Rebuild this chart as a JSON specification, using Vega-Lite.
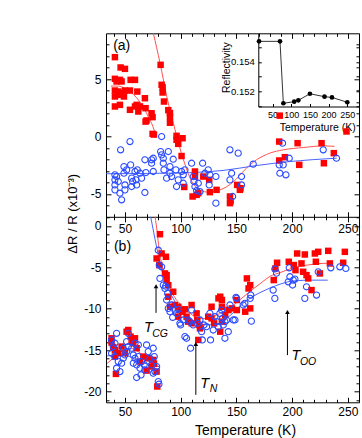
{
"$schema": "https://vega.github.io/schema/vega-lite/v6.json",
"width": 253, "height": 369,
"autosize": {"type": "none"},
"padding": {"left": 106, "top": 33.3, "right": 3, "bottom": 35.7},
"config": {
 "font": "Liberation Sans",
 "view": {"stroke": "#000", "strokeWidth": 1},
 "axis": {"grid": false, "labelFont": "Liberation Sans", "titleFont": "Liberation Sans", "labelColor": "#000", "titleColor": "#000", "tickColor": "#000", "domainColor": "#000", "tickWidth": 1, "domainWidth": 1, "labelFlush": false, "labelOverlap": false, "titleFontWeight": "normal", "labelFontSize": 12, "titleFontSize": 14}
},
"resolve": {"scale": {"x": "independent", "y": "independent"}, "axis": {"x": "independent", "y": "independent"}},
"datasets": {
 "ra": [{"T":41.0,"v":6.92},{"T":41.0,"v":5.03},{"T":42.5,"v":4.8},{"T":45.5,"v":4.94},{"T":47.0,"v":4.8},{"T":41.0,"v":4.01},{"T":44.0,"v":3.92},{"T":47.0,"v":3.78},{"T":50.0,"v":4.01},{"T":41.0,"v":3.49},{"T":45.5,"v":3.63},{"T":49.1,"v":3.49},{"T":46.1,"v":6.02},{"T":50.0,"v":5.9},{"T":41.0,"v":2.62},{"T":45.5,"v":2.76},{"T":55.1,"v":4.94},{"T":59.0,"v":4.94},{"T":54.5,"v":4.01},{"T":61.1,"v":3.92},{"T":54.5,"v":2.33},{"T":59.0,"v":2.62},{"T":60.5,"v":2.76},{"T":63.5,"v":2.62},{"T":62.0,"v":2.18},{"T":67.9,"v":3.34},{"T":68.5,"v":2.47},{"T":68.5,"v":1.3},{"T":69.4,"v":1.4},{"T":73.9,"v":2.03},{"T":74.8,"v":1.69},{"T":74.8,"v":0.23},{"T":76.0,"v":0.17},{"T":82.0,"v":6.25},{"T":82.9,"v":4.51},{"T":83.8,"v":4.3},{"T":83.8,"v":3.84},{"T":85.0,"v":3.05},{"T":88.9,"v":2.3},{"T":90.4,"v":2.05},{"T":90.4,"v":1.7},{"T":90.4,"v":1.2},{"T":96.3,"v":0.06},{"T":96.3,"v":-0.29},{"T":97.8,"v":-0.64},{"T":101.7,"v":-0.15},{"T":100.8,"v":-1.7},{"T":103.2,"v":-4.4},{"T":112.8,"v":-3.05},{"T":112.8,"v":-3.49},{"T":110.7,"v":-5.23},{"T":114.3,"v":-5.09},{"T":115.8,"v":-4.94},{"T":120.3,"v":-3.49},{"T":125.6,"v":-3.78},{"T":126.2,"v":-4.85},{"T":132.2,"v":-4.65},{"T":144.2,"v":-5.81},{"T":144.8,"v":-5.64},{"T":144.2,"v":-5.23},{"T":150.7,"v":-4.22},{"T":153.1,"v":-4.65},{"T":153.7,"v":-4.51},{"T":188.4,"v":-0.44},{"T":188.9,"v":1.82},{"T":188.4,"v":-2.09},{"T":193.5,"v":-1.8},{"T":204.9,"v":-0.58},{"T":206.4,"v":-2.47},{"T":226.4,"v":-0.58},{"T":228.5,"v":-2.33},{"T":237.4,"v":-1.45},{"T":248.8,"v":0.44}],
 "ba": [{"T":41.0,"v":-3.34},{"T":41.0,"v":-3.78},{"T":41.0,"v":-4.22},{"T":41.0,"v":-4.65},{"T":42.5,"v":-3.49},{"T":44.0,"v":-3.92},{"T":45.5,"v":-4.94},{"T":46.1,"v":-1.16},{"T":47.0,"v":-5.52},{"T":49.1,"v":-2.62},{"T":49.1,"v":-3.2},{"T":50.0,"v":-4.22},{"T":50.0,"v":-4.65},{"T":51.5,"v":-2.91},{"T":54.5,"v":-0.44},{"T":55.1,"v":-2.47},{"T":56.0,"v":-3.63},{"T":56.0,"v":-4.36},{"T":56.9,"v":-3.92},{"T":59.0,"v":-3.05},{"T":59.9,"v":-3.78},{"T":60.5,"v":-4.22},{"T":61.1,"v":-2.91},{"T":63.5,"v":-3.2},{"T":64.9,"v":-3.63},{"T":67.9,"v":-2.03},{"T":67.9,"v":-4.88},{"T":68.8,"v":-3.14},{"T":73.9,"v":-2.03},{"T":73.9,"v":-2.33},{"T":75.4,"v":-3.05},{"T":75.4,"v":-1.89},{"T":82.9,"v":0.0},{"T":82.0,"v":-1.31},{"T":82.9,"v":-1.6},{"T":84.4,"v":-1.89},{"T":84.4,"v":-2.33},{"T":85.0,"v":-2.91},{"T":87.4,"v":-3.63},{"T":88.9,"v":-1.31},{"T":90.4,"v":-2.62},{"T":90.4,"v":-3.2},{"T":91.9,"v":-3.49},{"T":93.3,"v":-1.98},{"T":95.7,"v":-2.91},{"T":96.3,"v":-4.36},{"T":97.8,"v":-3.78},{"T":100.8,"v":-3.05},{"T":102.3,"v":-3.34},{"T":102.3,"v":-4.07},{"T":103.8,"v":-2.91},{"T":109.8,"v":-2.33},{"T":111.3,"v":-3.49},{"T":111.9,"v":-3.92},{"T":112.8,"v":-4.36},{"T":114.3,"v":-4.71},{"T":115.8,"v":-4.07},{"T":117.3,"v":-4.8},{"T":119.7,"v":-2.33},{"T":121.7,"v":-3.2},{"T":124.7,"v":-2.91},{"T":125.6,"v":-4.22},{"T":126.2,"v":-3.34},{"T":131.6,"v":-3.49},{"T":131.6,"v":-5.81},{"T":144.2,"v":-1.16},{"T":144.2,"v":-3.78},{"T":145.7,"v":-3.2},{"T":146.6,"v":-5.23},{"T":151.6,"v":-1.45},{"T":154.6,"v":-3.49},{"T":154.6,"v":-4.22},{"T":165.1,"v":-2.41},{"T":188.4,"v":-2.47},{"T":189.0,"v":-3.2},{"T":191.4,"v":-0.58},{"T":192.0,"v":-2.47},{"T":194.4,"v":-3.34},{"T":197.4,"v":-1.89},{"T":227.9,"v":-1.16},{"T":239.8,"v":-1.89}],
 "rla": [{"s":"a1","T":37.5,"v":4.4},{"s":"a1","T":44,"v":4.4},{"s":"a1","T":50,"v":4.2},{"s":"a1","T":56,"v":3.8},{"s":"a1","T":62,"v":3.2},{"s":"a1","T":67,"v":2.5},{"s":"a1","T":71,"v":1.7},{"s":"a1","T":75,"v":0.9},{"s":"a1","T":78,"v":0.0},{"s":"a2","T":75.5,"v":9},{"s":"a2","T":81.5,"v":6.4},{"s":"a2","T":87.5,"v":3.5},{"s":"a2","T":94.9,"v":0.6},{"s":"a2","T":102.4,"v":-2.0},{"s":"a2","T":111,"v":-4.1},{"s":"a2","T":118,"v":-4.7},{"s":"a2","T":125,"v":-4.85},{"s":"a2","T":132,"v":-4.75},{"s":"a2","T":144,"v":-4.2},{"s":"a2","T":150,"v":-3.7},{"s":"a2","T":156,"v":-3.05},{"s":"a2","T":162,"v":-2.5},{"s":"a2","T":168,"v":-2.03},{"s":"a2","T":174,"v":-1.7},{"s":"a2","T":180,"v":-1.45},{"s":"a2","T":192,"v":-1.16},{"s":"a2","T":210,"v":-0.96},{"s":"a2","T":228,"v":-0.82},{"s":"a2","T":238,"v":-0.86}],
 "bla": [{"T":33,"v":-3.25},{"T":70,"v":-3.22},{"T":108,"v":-3.15},{"T":138,"v":-2.96},{"T":168,"v":-2.53},{"T":198,"v":-2.18},{"T":240,"v":-1.89}],
 "rb": [{"T":38.0,"v":-13.57},{"T":38.0,"v":-14.09},{"T":39.5,"v":-14.65},{"T":41.0,"v":-15.78},{"T":41.9,"v":-17.87},{"T":44.0,"v":-15.38},{"T":50.0,"v":-15.38},{"T":51.5,"v":-12.77},{"T":53.0,"v":-12.57},{"T":55.1,"v":-13.37},{"T":56.0,"v":-13.97},{"T":59.0,"v":-13.57},{"T":60.5,"v":-14.77},{"T":63.5,"v":-16.38},{"T":66.4,"v":-15.78},{"T":69.4,"v":-17.47},{"T":70.9,"v":-15.98},{"T":75.4,"v":-16.18},{"T":76.0,"v":-16.66},{"T":78.4,"v":-17.59},{"T":79.0,"v":-19.39},{"T":41.0,"v":-14.98},{"T":47.0,"v":-14.57},{"T":57.5,"v":-14.17},{"T":73.9,"v":-16.98},{"T":81.4,"v":-1.0},{"T":78.4,"v":-3.93},{"T":82.9,"v":-3.33},{"T":80.8,"v":-4.73},{"T":86.8,"v":-3.73},{"T":85.9,"v":-5.74},{"T":87.4,"v":-5.94},{"T":87.4,"v":-6.54},{"T":88.9,"v":-7.15},{"T":93.3,"v":-7.95},{"T":88.9,"v":-8.55},{"T":90.4,"v":-9.76},{"T":94.8,"v":-9.55},{"T":97.8,"v":-9.76},{"T":99.3,"v":-10.16},{"T":97.8,"v":-10.96},{"T":101.7,"v":-10.36},{"T":103.8,"v":-10.07},{"T":105.3,"v":-10.96},{"T":109.8,"v":-9.55},{"T":106.8,"v":-11.56},{"T":109.8,"v":-11.76},{"T":114.3,"v":-10.56},{"T":114.9,"v":-11.37},{"T":116.7,"v":-11.96},{"T":117.3,"v":-12.37},{"T":115.8,"v":-13.77},{"T":124.7,"v":-10.96},{"T":127.7,"v":-9.76},{"T":127.7,"v":-11.16},{"T":130.0,"v":-11.77},{"T":133.9,"v":-8.75},{"T":135.5,"v":-8.55},{"T":137.0,"v":-8.95},{"T":137.0,"v":-9.76},{"T":137.0,"v":-11.56},{"T":135.5,"v":-12.77},{"T":139.9,"v":-10.76},{"T":142.9,"v":-10.16},{"T":145.9,"v":-9.96},{"T":150.4,"v":-8.95},{"T":150.4,"v":-10.16},{"T":157.9,"v":-10.36},{"T":159.4,"v":-6.34},{"T":160.9,"v":-7.55},{"T":162.4,"v":-7.15},{"T":162.4,"v":-9.96},{"T":183.5,"v":-6.54},{"T":185.0,"v":-5.14},{"T":186.5,"v":-4.45},{"T":197.0,"v":-4.33},{"T":201.5,"v":-4.73},{"T":203.0,"v":-5.34},{"T":204.5,"v":-3.33},{"T":208.4,"v":-4.53},{"T":209.9,"v":-5.54},{"T":211.4,"v":-3.45},{"T":212.9,"v":-5.94},{"T":214.4,"v":-6.34},{"T":217.4,"v":-7.75},{"T":220.4,"v":-3.33},{"T":221.3,"v":-4.33},{"T":223.4,"v":-3.13},{"T":224.9,"v":-5.74},{"T":232.4,"v":-3.01},{"T":233.9,"v":-4.53},{"T":245.8,"v":-4.45},{"T":247.3,"v":-3.13}],
 "bb": [{"T":38.0,"v":-13.77},{"T":39.5,"v":-14.57},{"T":41.0,"v":-14.17},{"T":42.5,"v":-12.97},{"T":38.0,"v":-15.38},{"T":41.0,"v":-15.78},{"T":44.0,"v":-16.38},{"T":42.5,"v":-17.18},{"T":45.5,"v":-17.59},{"T":47.0,"v":-16.58},{"T":48.5,"v":-14.77},{"T":48.5,"v":-15.98},{"T":50.0,"v":-15.58},{"T":51.5,"v":-15.18},{"T":51.5,"v":-13.97},{"T":53.0,"v":-14.57},{"T":53.0,"v":-12.97},{"T":56.0,"v":-14.77},{"T":57.5,"v":-15.58},{"T":57.5,"v":-16.58},{"T":59.0,"v":-14.17},{"T":59.0,"v":-15.98},{"T":60.5,"v":-16.78},{"T":62.0,"v":-14.37},{"T":62.0,"v":-15.78},{"T":63.5,"v":-17.18},{"T":64.9,"v":-16.38},{"T":67.3,"v":-16.78},{"T":60.5,"v":-18.31},{"T":64.4,"v":-17.99},{"T":69.4,"v":-14.37},{"T":70.9,"v":-15.18},{"T":72.4,"v":-15.98},{"T":73.9,"v":-16.78},{"T":75.4,"v":-14.77},{"T":76.3,"v":-15.78},{"T":76.9,"v":-17.59},{"T":78.4,"v":-16.98},{"T":79.9,"v":-18.79},{"T":80.5,"v":-19.11},{"T":75.4,"v":-17.79},{"T":67.9,"v":-17.39},{"T":79.9,"v":-2.93},{"T":80.8,"v":-4.73},{"T":81.4,"v":-6.34},{"T":82.9,"v":-4.94},{"T":84.4,"v":-7.15},{"T":85.9,"v":-7.55},{"T":86.5,"v":-7.27},{"T":87.4,"v":-8.95},{"T":88.3,"v":-8.15},{"T":88.9,"v":-9.96},{"T":90.4,"v":-10.36},{"T":91.9,"v":-9.55},{"T":92.8,"v":-11.04},{"T":94.8,"v":-10.16},{"T":96.3,"v":-10.56},{"T":97.8,"v":-10.07},{"T":99.3,"v":-11.76},{"T":99.9,"v":-11.96},{"T":102.3,"v":-11.36},{"T":103.8,"v":-13.37},{"T":105.3,"v":-13.57},{"T":106.8,"v":-11.36},{"T":109.8,"v":-10.16},{"T":108.3,"v":-11.56},{"T":108.9,"v":-14.77},{"T":111.3,"v":-11.96},{"T":114.9,"v":-11.76},{"T":117.3,"v":-11.36},{"T":118.8,"v":-12.77},{"T":119.4,"v":-13.77},{"T":120.9,"v":-11.96},{"T":123.2,"v":-12.17},{"T":126.2,"v":-10.56},{"T":126.8,"v":-13.77},{"T":129.2,"v":-12.57},{"T":130.7,"v":-10.96},{"T":132.2,"v":-11.56},{"T":133.7,"v":-12.17},{"T":135.2,"v":-10.56},{"T":136.7,"v":-10.16},{"T":137.6,"v":-11.16},{"T":138.2,"v":-11.96},{"T":139.7,"v":-13.57},{"T":139.7,"v":-11.56},{"T":141.2,"v":-11.36},{"T":142.7,"v":-12.77},{"T":144.2,"v":-9.55},{"T":147.2,"v":-11.36},{"T":148.7,"v":-11.36},{"T":149.6,"v":-8.63},{"T":150.1,"v":-8.75},{"T":156.1,"v":-9.55},{"T":157.6,"v":-9.35},{"T":162.4,"v":-8.75},{"T":162.9,"v":-8.35},{"T":163.4,"v":-11.5},{"T":183.0,"v":-7.75},{"T":184.5,"v":-8.75},{"T":184.5,"v":-5.2},{"T":186.0,"v":-5.7},{"T":196.5,"v":-6.75},{"T":197.4,"v":-5.06},{"T":198.0,"v":-6.14},{"T":200.4,"v":-7.14},{"T":201.0,"v":-6.55},{"T":202.5,"v":-6.42},{"T":211.4,"v":-8.75},{"T":212.9,"v":-7.35},{"T":221.9,"v":-8.35},{"T":223.4,"v":-5.54},{"T":234.7,"v":-5.06},{"T":242.8,"v":-4.94},{"T":248.2,"v":-5.14}],
 "rlb": [{"s":"b1","T":34,"v":-16.6},{"s":"b1","T":40,"v":-15.9},{"s":"b1","T":45,"v":-15.3},{"s":"b1","T":50,"v":-14.95},{"s":"b1","T":55,"v":-14.8},{"s":"b1","T":60,"v":-15.0},{"s":"b1","T":65,"v":-15.5},{"s":"b1","T":70,"v":-16.1},{"s":"b1","T":74,"v":-16.6},{"s":"b1","T":81,"v":-17.0},{"s":"b2","T":77,"v":1.1},{"s":"b2","T":79,"v":-0.8},{"s":"b2","T":80.5,"v":-2.7},{"s":"b2","T":82.5,"v":-4.3},{"s":"b2","T":84.4,"v":-5.5},{"s":"b2","T":88,"v":-7.0},{"s":"b2","T":91.9,"v":-8.0},{"s":"b2","T":96,"v":-8.9},{"s":"b2","T":100.9,"v":-9.6},{"s":"b2","T":105,"v":-10.2},{"s":"b2","T":109.8,"v":-10.7},{"s":"b2","T":116,"v":-11.1},{"s":"b2","T":122,"v":-11.2},{"s":"b2","T":130,"v":-10.9},{"s":"b2","T":140,"v":-10.2},{"s":"b2","T":147,"v":-9.6},{"s":"b2","T":156,"v":-8.6},{"s":"b2","T":165,"v":-7.6},{"s":"b2","T":172,"v":-6.9},{"s":"b2","T":180,"v":-6.1},{"s":"b2","T":190,"v":-5.6},{"s":"b2","T":198,"v":-5.2},{"s":"b2","T":206,"v":-4.9},{"s":"b2","T":215,"v":-4.7},{"s":"b2","T":224,"v":-4.55},{"s":"b2","T":232,"v":-4.5}],
 "blb": [{"s":"b1","T":34,"v":-15.7},{"s":"b1","T":42,"v":-15.6},{"s":"b1","T":50,"v":-15.6},{"s":"b1","T":56,"v":-15.9},{"s":"b1","T":62,"v":-16.3},{"s":"b1","T":68,"v":-16.6},{"s":"b1","T":74,"v":-16.8},{"s":"b1","T":81,"v":-17.0},{"s":"b2","T":73.1,"v":1.1},{"s":"b2","T":77,"v":-1.6},{"s":"b2","T":79.9,"v":-3.5},{"s":"b2","T":82.8,"v":-5.2},{"s":"b2","T":85.9,"v":-6.4},{"s":"b2","T":88.5,"v":-7.4},{"s":"b2","T":91.9,"v":-8.4},{"s":"b2","T":96,"v":-9.4},{"s":"b2","T":100.9,"v":-10.4},{"s":"b2","T":106,"v":-11.0},{"s":"b2","T":112.8,"v":-11.6},{"s":"b2","T":118,"v":-11.85},{"s":"b2","T":124.7,"v":-11.95},{"s":"b2","T":132,"v":-11.9},{"s":"b2","T":140,"v":-11.3},{"s":"b2","T":147,"v":-10.5},{"s":"b2","T":156,"v":-9.35},{"s":"b2","T":165,"v":-8.5},{"s":"b2","T":172,"v":-8.0},{"s":"b2","T":180,"v":-7.5},{"s":"b2","T":190,"v":-7.0},{"s":"b2","T":198,"v":-6.7},{"s":"b2","T":206,"v":-6.6},{"s":"b2","T":215,"v":-6.55},{"s":"b2","T":232,"v":-6.55}],
 "arr": [{"T":77.9,"y1":-10.5,"y2":-7.28},{"T":113.6,"y1":-20.4,"y2":-14.25},{"T":195.8,"y1":-15.6,"y2":-10.4}],
 "tl": [{"T":71.0,"v":-12.37,"t":"T"},{"T":121.5,"v":-19.09,"t":"T"},{"T":203.4,"v":-15.71,"t":"T"}],
 "sl": [{"T":81.5,"v":-13.1,"t":"CG"},{"T":129.6,"v":-19.75,"t":"N"},{"T":214.3,"v":-16.38,"t":"OO"}],
 "pa": [{"T":47.1,"v":7.91,"t":"(a)"}],
 "pb": [{"T":47.8,"v":-2.51,"t":"(b)"}],
 "ins": [{"T":14,"R":0.15541},{"T":70,"R":0.15541},{"T":79,"R":0.15118},{"T":108,"R":0.15129},{"T":119,"R":0.15138},{"T":150,"R":0.15183},{"T":189,"R":0.15163},{"T":209,"R":0.15158},{"T":250,"R":0.15125}]
},
"layer": [
 {"data": {"name": "rla"},
  "mark": {"type": "line", "color": "#ff5050", "strokeWidth": 1, "interpolate": "monotone"},
  "encoding": {
   "x": {"field": "T", "type": "quantitative", "scale": {"domain": [33, 260], "nice": false, "zero": false},
     "axis": {"orient": "bottom", "offset": -369, "values": [40,60,70,80,90,110,120,130,140,160,170,180,190,210,220,230,240,260], "tickSize": 3, "labels": false, "domain": false, "title": null}},
   "y": {"field": "v", "type": "quantitative", "scale": {"domain": [-7, 9], "range": [183.5, 0], "nice": false, "zero": false},
     "axis": {"orient": "left", "offset": -253, "values": [-5, 0, 5], "tickSize": 5, "labels": false, "domain": false, "title": null}},
   "detail": {"field": "s"}}},
 {"data": {"name": "bla"},
  "mark": {"type": "line", "color": "#4a64ff", "strokeWidth": 1, "interpolate": "monotone"},
  "encoding": {
   "x": {"field": "T", "type": "quantitative", "scale": {"domain": [33, 260], "nice": false, "zero": false},
     "axis": {"orient": "top", "offset": -183.5, "values": [50,100,150,200,250], "tickSize": 5, "labels": false, "domain": true, "title": null}},
   "y": {"field": "v", "type": "quantitative", "scale": {"domain": [-7, 9], "range": [183.5, 0], "nice": false, "zero": false},
     "axis": {"orient": "right", "offset": -253, "values": [-6,-4,-3,-2,-1,1,2,3,4,6,7,8], "tickSize": 3, "labels": false, "domain": false, "title": null}}}},
 {"data": {"name": "ra"},
  "mark": {"type": "square", "filled": true, "color": "#ff0000", "size": 42, "opacity": 1},
  "encoding": {
   "x": {"field": "T", "type": "quantitative", "scale": {"domain": [33, 260], "nice": false, "zero": false},
     "axis": {"orient": "bottom", "values": [50,100,150,200,250], "ticks": false, "domain": false, "labelPadding": 9, "labelBaseline": "middle", "title": "Temperature (K)", "titleX": 139, "titleY": 28, "titleBaseline": "middle", "titleAlign": "center"}},
   "y": {"field": "v", "type": "quantitative", "scale": {"domain": [-7, 9], "range": [183.5, 0], "nice": false, "zero": false},
     "axis": {"orient": "left", "values": [-5, 0, 5], "ticks": false, "domain": false, "labelPadding": 5, "labelExpr": "replace(datum.label, '\u2212', '-')", "title": "ΔR / R (x10⁻³)", "titleFontSize": 13, "titleAngle": -90, "titleX": -33.5, "titleY": 180, "titleAlign": "center", "titleBaseline": "middle"}}}},
 {"data": {"name": "ba"},
  "mark": {"type": "point", "shape": "circle", "filled": false, "stroke": "#2a4bff", "strokeWidth": 1.1, "size": 38, "opacity": 1},
  "encoding": {
   "x": {"field": "T", "type": "quantitative", "scale": {"domain": [33, 260], "nice": false, "zero": false},
     "axis": {"orient": "bottom", "offset": -369, "values": [50,100,150,200,250], "tickSize": 5, "labels": false, "domain": false, "title": null}},
   "y": {"field": "v", "type": "quantitative", "scale": {"domain": [-7, 9], "range": [183.5, 0], "nice": false, "zero": false},
     "axis": {"orient": "right", "offset": -253, "values": [-5, 0, 5], "tickSize": 5, "labels": false, "domain": false, "title": null}}}},
 {"data": {"name": "pa"},
  "mark": {"type": "text", "fontSize": 14, "color": "#000", "align": "center", "baseline": "middle"},
  "encoding": {
   "x": {"field": "T", "type": "quantitative", "scale": {"domain": [33, 260], "nice": false, "zero": false},
     "axis": {"orient": "top", "offset": -183.5, "values": [40,60,70,80,90,110,120,130,140,160,170,180,190,210,220,230,240], "tickSize": 3, "labels": false, "domain": false, "title": null}},
   "y": {"field": "v", "type": "quantitative", "scale": {"domain": [-7, 9], "range": [183.5, 0], "nice": false, "zero": false},
     "axis": {"orient": "left", "offset": -253, "values": [-6,-4,-3,-2,-1,1,2,3,4,6,7,8], "tickSize": 3, "labels": false, "domain": false, "title": null}},
   "text": {"field": "t"}}},
 {"data": {"name": "rlb"},
  "mark": {"type": "line", "color": "#ff5050", "strokeWidth": 1, "interpolate": "monotone"},
  "encoding": {
   "x": {"field": "T", "type": "quantitative", "scale": {"domain": [33, 260], "nice": false, "zero": false},
     "axis": {"orient": "top", "offset": -369, "values": [50,100,150,200,250], "tickSize": 5, "labels": false, "domain": false, "title": null}},
   "y": {"field": "v", "type": "quantitative", "scale": {"domain": [-21.3, 1.1], "range": [369, 183.5], "nice": false, "zero": false},
     "axis": {"orient": "right", "offset": -253, "values": [-21,-19,-18,-17,-16,-14,-13,-12,-11,-9,-8,-7,-6,-4,-3,-2,-1,1], "tickSize": 3, "labels": false, "domain": false, "title": null}},
   "detail": {"field": "s"}}},
 {"data": {"name": "blb"},
  "mark": {"type": "line", "color": "#4a64ff", "strokeWidth": 1, "interpolate": "monotone"},
  "encoding": {
   "x": {"field": "T", "type": "quantitative", "scale": {"domain": [33, 260], "nice": false, "zero": false},
     "axis": {"orient": "top", "offset": -369, "values": [40,60,70,80,90,110,120,130,140,160,170,180,190,210,220,230,240], "tickSize": 3, "labels": false, "domain": false, "title": null}},
   "y": {"field": "v", "type": "quantitative", "scale": {"domain": [-21.3, 1.1], "range": [369, 183.5], "nice": false, "zero": false},
     "axis": {"orient": "left", "offset": -253, "values": [-20,-15,-10,-5,0], "tickSize": 5, "labels": false, "domain": false, "title": null}},
   "detail": {"field": "s"}}},
 {"data": {"name": "rb"},
  "mark": {"type": "square", "filled": true, "color": "#ff0000", "size": 42, "opacity": 1},
  "encoding": {
   "x": {"field": "T", "type": "quantitative", "scale": {"domain": [33, 260], "nice": false, "zero": false},
     "axis": {"orient": "bottom", "offset": -185.5, "values": [50,100,150,200,250], "tickSize": 5, "labels": true, "labelPadding": 6.2, "labelBaseline": "middle", "domain": false, "title": null}},
   "y": {"field": "v", "type": "quantitative", "scale": {"domain": [-21.3, 1.1], "range": [369, 183.5], "nice": false, "zero": false},
     "axis": {"orient": "left", "values": [-20,-15,-10,-5,0], "ticks": false, "domain": false, "labelPadding": 5, "labelExpr": "replace(datum.label, '\u2212', '-')", "title": null}}}},
 {"data": {"name": "bb"},
  "mark": {"type": "point", "shape": "circle", "filled": false, "stroke": "#2a4bff", "strokeWidth": 1.1, "size": 38, "opacity": 1},
  "encoding": {
   "x": {"field": "T", "type": "quantitative", "scale": {"domain": [33, 260], "nice": false, "zero": false},
     "axis": {"orient": "bottom", "offset": -185.5, "values": [40,60,70,80,90,110,120,130,140,160,170,180,190,210,220,230,240], "tickSize": 3, "labels": false, "domain": false, "title": null}},
   "y": {"field": "v", "type": "quantitative", "scale": {"domain": [-21.3, 1.1], "range": [369, 183.5], "nice": false, "zero": false},
     "axis": {"orient": "right", "offset": -253, "values": [-20,-15,-10,-5,0], "tickSize": 5, "labels": false, "domain": false, "title": null}}}},
 {"data": {"name": "arr"},
  "mark": {"type": "rule", "color": "#000", "strokeWidth": 1},
  "encoding": {
   "x": {"field": "T", "type": "quantitative", "scale": {"domain": [33, 260], "nice": false, "zero": false}, "axis": null},
   "y": {"field": "y1", "type": "quantitative", "scale": {"domain": [-21.3, 1.1], "range": [369, 183.5], "nice": false, "zero": false},
     "axis": {"orient": "left", "offset": -253, "values": [-21,-19,-18,-17,-16,-14,-13,-12,-11,-9,-8,-7,-6,-4,-3,-2,-1,1], "tickSize": 3, "labels": false, "domain": false, "title": null}},
   "y2": {"field": "y2"}}},
 {"data": {"name": "arr"},
  "mark": {"type": "point", "shape": "triangle-up", "filled": true, "color": "#000", "size": 22, "opacity": 1},
  "encoding": {
   "x": {"field": "T", "type": "quantitative", "scale": {"domain": [33, 260], "nice": false, "zero": false}, "axis": null},
   "y": {"field": "y2", "type": "quantitative", "scale": {"domain": [-21.3, 1.1], "range": [369, 183.5], "nice": false, "zero": false}, "axis": null}}},
 {"data": {"name": "tl"},
  "mark": {"type": "text", "fontSize": 14.5, "fontStyle": "italic", "color": "#000", "align": "center", "baseline": "middle"},
  "encoding": {
   "x": {"field": "T", "type": "quantitative", "scale": {"domain": [33, 260], "nice": false, "zero": false}, "axis": null},
   "y": {"field": "v", "type": "quantitative", "scale": {"domain": [-21.3, 1.1], "range": [369, 183.5], "nice": false, "zero": false}, "axis": null},
   "text": {"field": "t"}}},
 {"data": {"name": "sl"},
  "mark": {"type": "text", "fontSize": 10.5, "fontStyle": "italic", "color": "#000", "align": "center", "baseline": "middle"},
  "encoding": {
   "x": {"field": "T", "type": "quantitative", "scale": {"domain": [33, 260], "nice": false, "zero": false}, "axis": null},
   "y": {"field": "v", "type": "quantitative", "scale": {"domain": [-21.3, 1.1], "range": [369, 183.5], "nice": false, "zero": false}, "axis": null},
   "text": {"field": "t"}}},
 {"data": {"name": "pb"},
  "mark": {"type": "text", "fontSize": 14, "color": "#000", "align": "center", "baseline": "middle"},
  "encoding": {
   "x": {"field": "T", "type": "quantitative", "scale": {"domain": [33, 260], "nice": false, "zero": false}, "axis": null},
   "y": {"field": "v", "type": "quantitative", "scale": {"domain": [-21.3, 1.1], "range": [369, 183.5], "nice": false, "zero": false}, "axis": null},
   "text": {"field": "t"}}},
 {"data": {"name": "ins"},
  "mark": {"type": "line", "color": "#000", "strokeWidth": 0.8},
  "encoding": {
   "x": {"field": "T", "type": "quantitative", "scale": {"domain": [12, 281.3], "range": [152.3, 253], "nice": false, "zero": false},
     "axis": {"orient": "bottom", "offset": -295.8, "values": [50,100,150,200,250], "ticks": false, "domain": true, "labelPadding": 8, "labelBaseline": "middle", "labelFontSize": 9, "title": "Temperature (K)", "titleFontSize": 10.5, "titleX": 211.2, "titleY": 20.5, "titleBaseline": "middle", "titleAlign": "center"}},
   "y": {"field": "R", "type": "quantitative", "scale": {"domain": [0.15096, 0.15596], "range": [73.2, 0], "nice": false, "zero": false},
     "axis": {"orient": "left", "offset": -152.3, "values": [0.152, 0.154], "format": ".3f", "ticks": false, "domain": true, "labelPadding": 4, "labelFontSize": 9.5, "title": "Reflectivity", "titleFontSize": 10.5, "titleAngle": -90, "titleX": -31.6, "titleY": 33.8, "titleAlign": "center", "titleBaseline": "middle"}}}},
 {"data": {"name": "ins"},
  "mark": {"type": "point", "shape": "circle", "filled": true, "color": "#000", "size": 22, "opacity": 1},
  "encoding": {
   "x": {"field": "T", "type": "quantitative", "scale": {"domain": [12, 281.3], "range": [152.3, 253], "nice": false, "zero": false},
     "axis": {"orient": "top", "offset": -73.2, "values": [50,100,150,200,250], "tickSize": 3, "labels": false, "domain": false, "title": null}},
   "y": {"field": "R", "type": "quantitative", "scale": {"domain": [0.15096, 0.15596], "range": [73.2, 0], "nice": false, "zero": false},
     "axis": {"orient": "right", "offset": -100.7, "values": [0.151,0.152,0.153,0.154,0.155], "tickSize": 3, "labels": false, "domain": false, "title": null}}}},
 {"data": {"name": "ins"},
  "mark": {"type": "point", "shape": "circle", "filled": true, "color": "#000", "size": 22, "opacity": 0},
  "encoding": {
   "x": {"field": "T", "type": "quantitative", "scale": {"domain": [12, 281.3], "range": [152.3, 253], "nice": false, "zero": false}, "axis": null},
   "y": {"field": "R", "type": "quantitative", "scale": {"domain": [0.15096, 0.15596], "range": [73.2, 0], "nice": false, "zero": false},
     "axis": {"orient": "left", "offset": -253, "values": [0.151,0.152,0.153,0.154,0.155], "tickSize": 3, "labels": false, "domain": false, "title": null}}}}
]
}
